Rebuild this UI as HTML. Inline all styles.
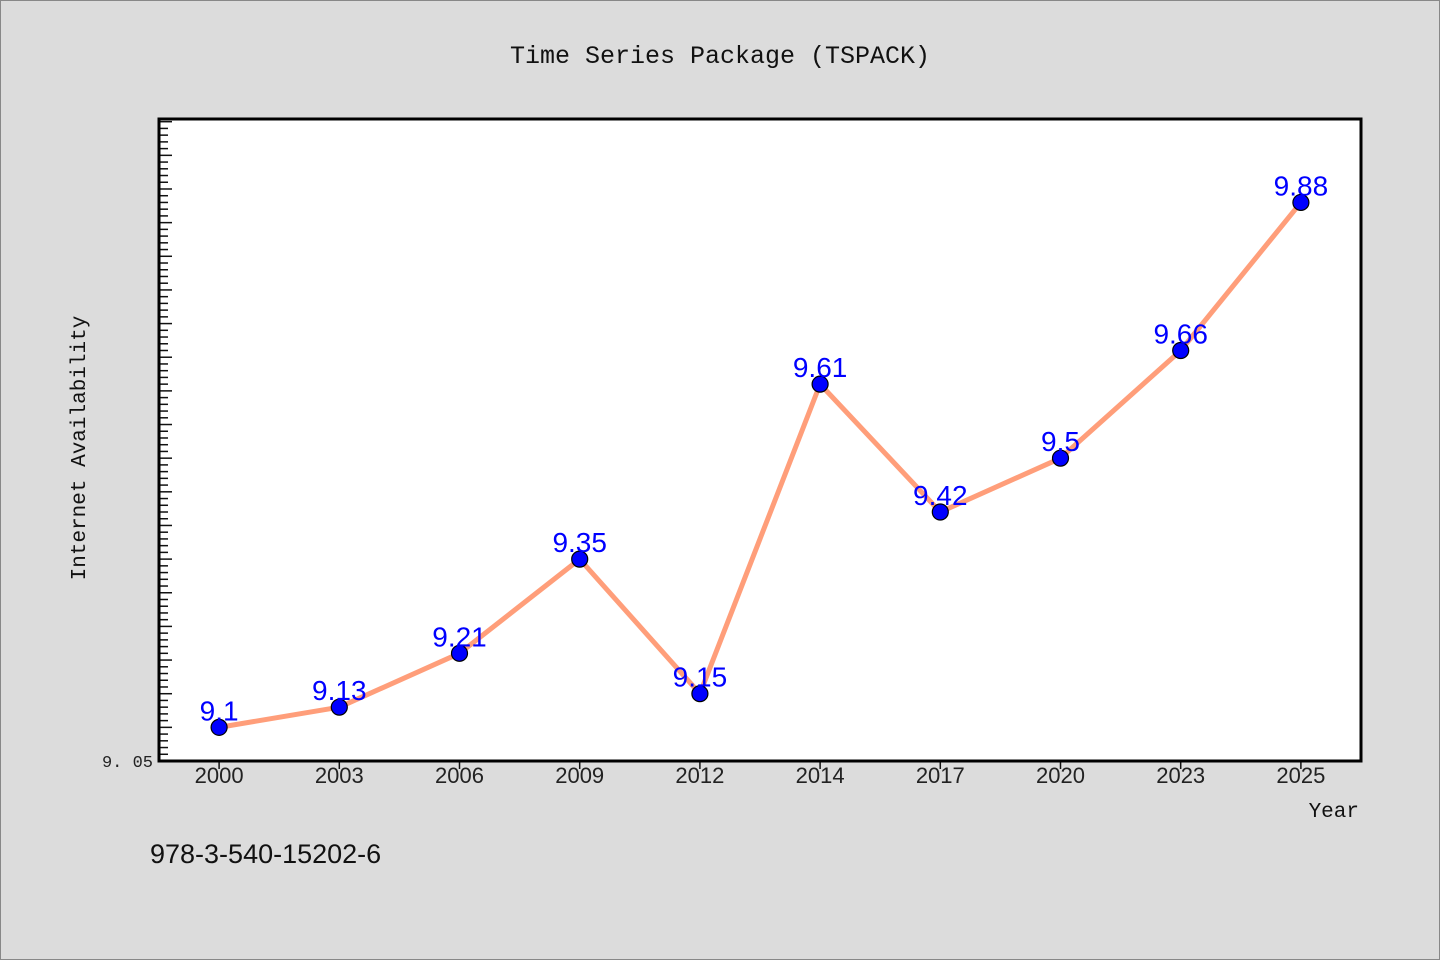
<!DOCTYPE html>
<html><head><meta charset="utf-8"><style>
html,body{margin:0;padding:0;background:#dcdcdc}
svg{display:block}
text{font-family:"Liberation Mono","Noto Sans CJK SC",monospace}
</style></head><body>
<svg id="c" width="1440" height="960" xmlns="http://www.w3.org/2000/svg">
<rect x="0.5" y="0.5" width="1439" height="959" fill="#dcdcdc" stroke="#888"/>
<text x="720" y="63" text-anchor="middle" font-size="25" fill="#111">Time Series Package (TSPACK)</text>
<rect x="159" y="119" width="1202" height="642" fill="#fff"/>
<g id="ticks"></g>
<g id="series"></g>
<rect x="159" y="119" width="1202" height="642" fill="none" stroke="#000" stroke-width="3"/>
<text x="85" y="448" transform="rotate(-90 85 448)" text-anchor="middle" font-size="21" fill="#111">Internet Availability</text>
<text x="1359" y="817" text-anchor="end" font-size="21" fill="#111">Year</text>
<text x="150" y="863" font-size="27" fill="#111" style="font-family:'Liberation Sans',sans-serif">978-3-540-15202-6</text>
</svg>
<script>
const categories=["2000","2003","2006","2009","2012","2014","2017","2020","2023","2025"];
const values=[9.1,9.13,9.21,9.35,9.15,9.61,9.42,9.5,9.66,9.88];
const labels=["9.1","9.13","9.21","9.35","9.15","9.61","9.42","9.5","9.66","9.88"];
const yTickLabels=["9.05"];
const NS="http://www.w3.org/2000/svg";
const L=159,R=1361,T=119,B=761,yMin=9.05,yMax=10.004;
const x=i=>L+(R-L)/categories.length*(i+0.5);
const y=v=>B-(v-yMin)/(yMax-yMin)*(B-T);
function mk(tag,a,p){const e=document.createElementNS(NS,tag);for(const k in a)e.setAttribute(k,a[k]);p.appendChild(e);return e;}
const tg=document.getElementById('ticks'),sg=document.getElementById('series');
for(let k=0;;k++){const v=yMin+k*0.01;if(v>yMax)break;const yy=y(v);const major=k%5===0;
 const t=mk('line',{x1:L,x2:L+(major?13:9),y1:yy,y2:yy,stroke:'#111','stroke-width':1.5},tg);
 
 }
yTickLabels.forEach(s=>{const t=mk('text',{x:153,y:y(parseFloat(s))+6,'text-anchor':'end','font-size':17,fill:'#222'},tg);t.textContent=s.replace('.','. ');
 
 });
categories.forEach((c,i)=>{const tk=mk('line',{x1:x(i),x2:x(i),y1:B,y2:B+8,stroke:'#111','stroke-width':1.5},tg);
 
 
 const t=mk('text',{x:x(i),y:B+22,'text-anchor':'middle','font-size':22,fill:'#222',style:"font-family:'Liberation Sans',sans-serif"},tg);t.textContent=c;
 
 });
const ln=mk('polyline',{points:values.map((v,i)=>x(i)+','+y(v)).join(' '),fill:'none',stroke:'#ff9e7a','stroke-width':5,'stroke-linejoin':'round'},sg);


values.forEach((v,i)=>{const c=mk('circle',{cx:x(i),cy:y(v),r:8,fill:'#0000ff',stroke:'#000','stroke-width':1.2},sg);
 
 
 const t=mk('text',{x:x(i),y:y(v)-7,'text-anchor':'middle','font-size':28,fill:'#0000ff',style:"font-family:'Liberation Sans',sans-serif"},sg);t.textContent=labels[i];
 
 });
</script>
</body></html>
